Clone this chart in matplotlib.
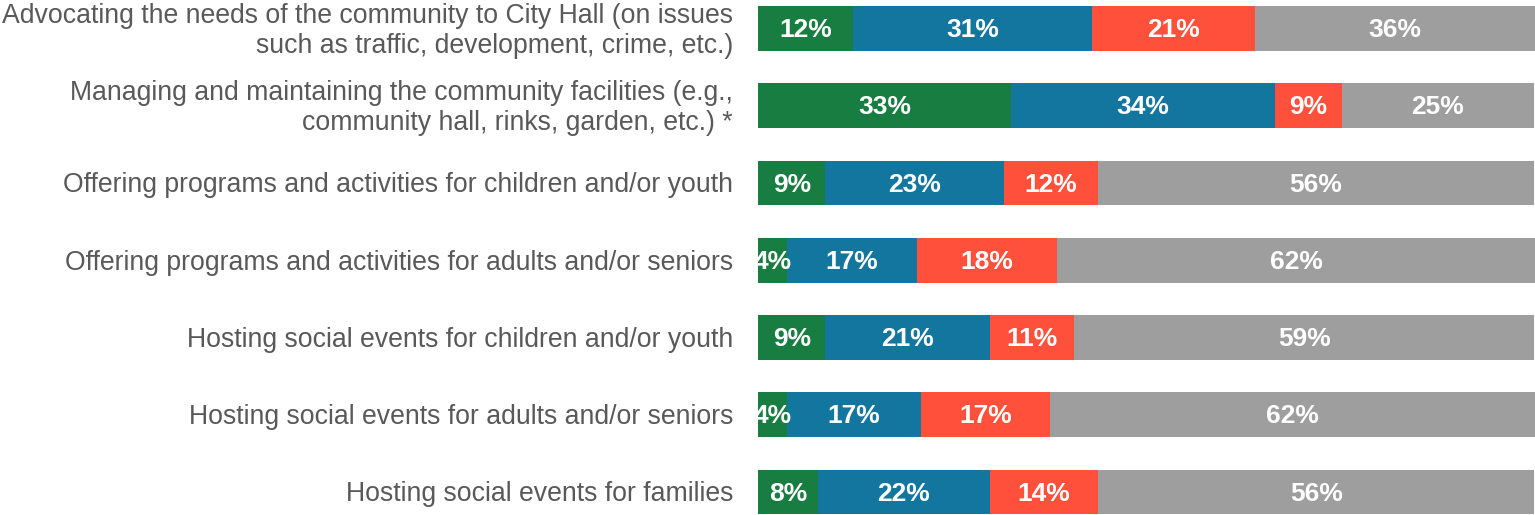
import matplotlib
matplotlib.use('Agg')
import matplotlib.pyplot as plt

plt.rcParams['font.family'] = ['Liberation Sans', 'DejaVu Sans']

categories = [
    'Advocating the needs of the community to City Hall (on issues\nsuch as traffic, development, crime, etc.)',
    'Managing and maintaining the community facilities (e.g.,\ncommunity hall, rinks, garden, etc.) *',
    'Offering programs and activities for children and/or youth',
    'Offering programs and activities for adults and/or seniors',
    'Hosting social events for children and/or youth',
    'Hosting social events for adults and/or seniors',
    'Hosting social events for families',
]

# segment values (percent)
green = [12.2, 32.6, 8.6, 3.7, 8.6, 3.7, 7.7]
blue = [30.8, 33.9, 23.0, 16.7, 21.2, 17.2, 22.1]
red = [20.9, 8.6, 12.1, 18.1, 10.9, 16.7, 14.0]
gray = [36.1, 24.8, 56.2, 61.6, 59.2, 62.4, 56.1]

series = [green, blue, red, gray]
colors = ['#187D40', '#13769F', '#FF503C', '#9E9E9E']

fig = plt.figure(figsize=(15.35, 5.15), dpi=100)
ax = fig.add_axes([0.494, 0.0, 0.506, 1.0])

ypos = list(range(len(categories)))
left = [0.0] * len(categories)
for vals, col in zip(series, colors):
    ax.barh(ypos, vals, left=left, height=0.58, color=col, edgecolor='none')
    for i, v in enumerate(vals):
        ax.text(left[i] + v / 2, i + 0.02, '%d%%' % round(v), ha='center', va='center',
                color='white', fontsize=19, fontweight='bold')
    left = [l + v for l, v in zip(left, vals)]

for i, c in enumerate(categories):
    ax.text(-3.25, i + 0.03, c, ha='right', va='center', color='#595959', fontsize=19.2,
            linespacing=1.22, clip_on=False)

ax.set_xlim(0, 100)
ax.set_ylim(6.298, -0.369)
ax.axis('off')

fig.savefig('out.png', dpi=100)
